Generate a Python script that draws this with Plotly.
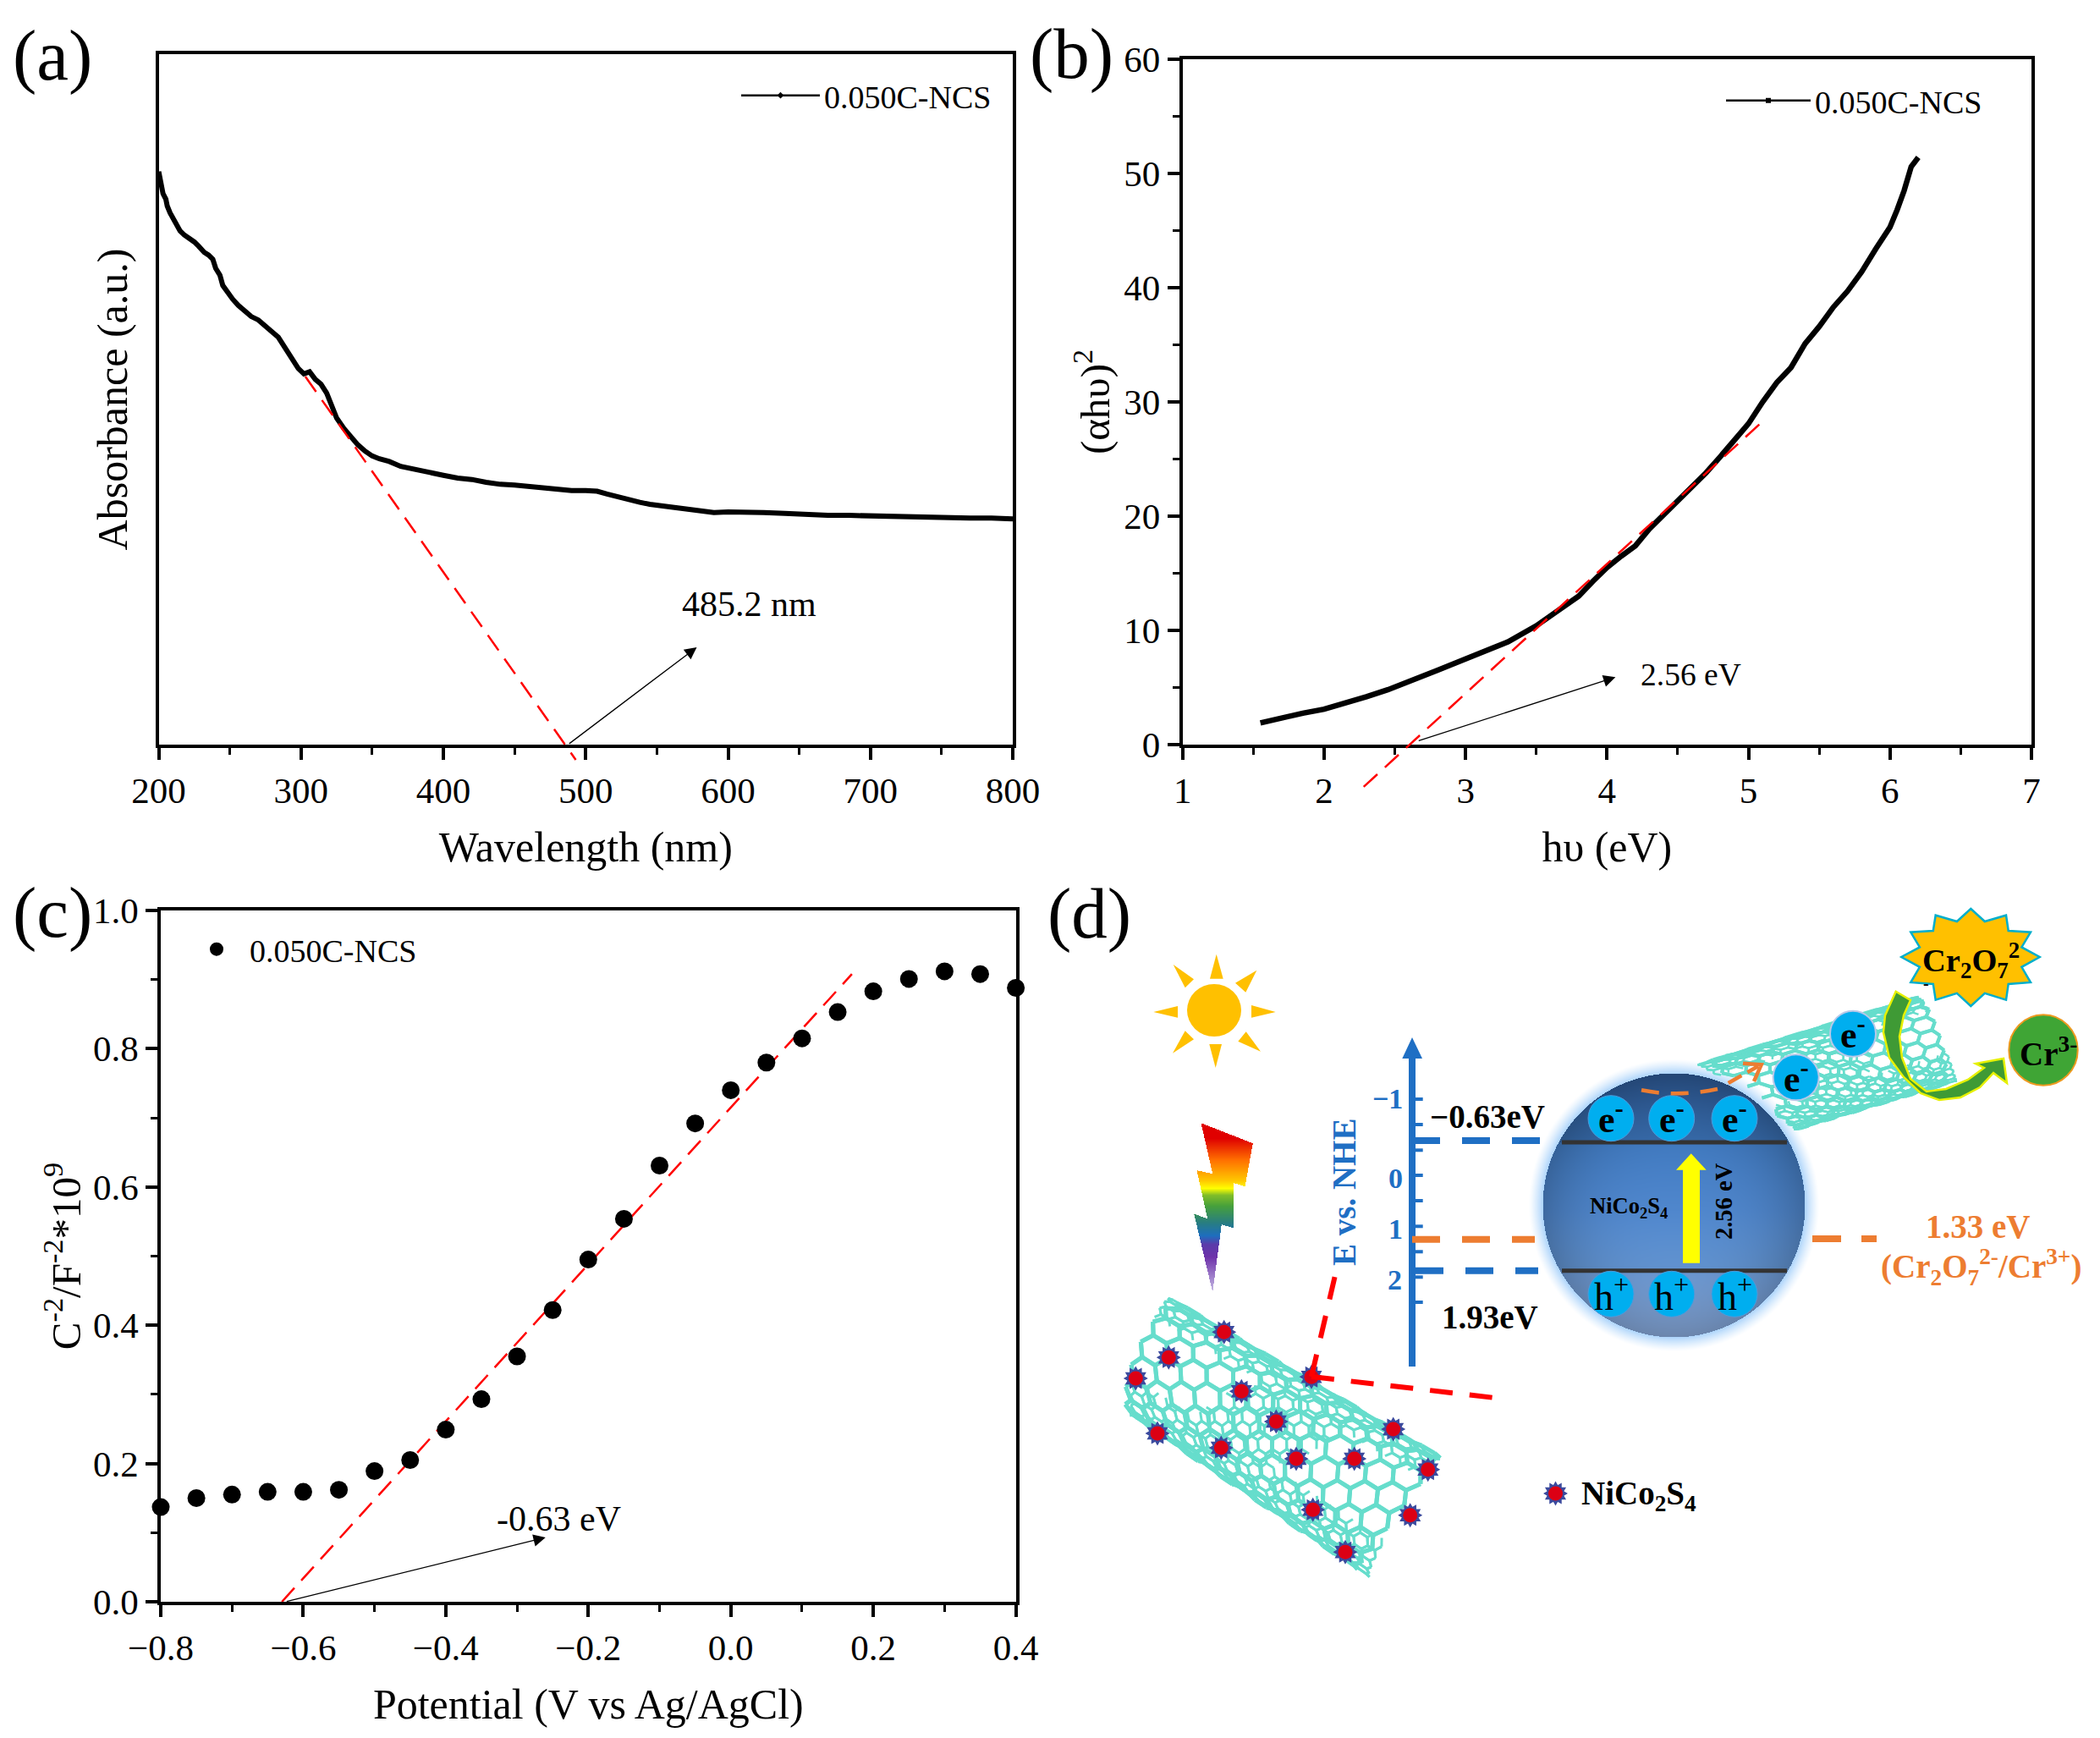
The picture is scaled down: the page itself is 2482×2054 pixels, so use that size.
import numpy as np
import plotly.graph_objects as go

W, H = 2482, 2054
FONT = "Liberation Serif"
BLUE = "#1F6FC4"
ORANGE = "#ED7D31"
CYAN = "#00AEEF"
MESH = "#66DDCC"

# ---------- data ----------
wavelength = [200, 201, 202, 203, 205, 206, 208, 210, 212, 215, 218, 222, 225, 228, 232, 235, 238, 240, 243, 245, 248, 252,
              256, 260, 265, 270, 275, 280, 284, 288, 292, 295, 298, 302, 306, 310, 314, 318, 322, 325, 330, 335, 340, 345,
              350, 355, 362, 370, 378, 385, 392, 400, 410, 420, 430, 440, 450, 460, 470, 480, 490, 500, 508, 515, 522, 530,
              538, 545, 552, 560, 568, 575, 582, 590, 600, 610, 625, 640, 655, 670, 685, 700, 720, 740, 755, 770, 785, 800]
absorbance = [.830, .818, .806, .798, .790, .780, .770, .762, .754, .744, .738, .733, .728, .722, .713, .709, .703, .690, .680,
              .665, .655, .645, .636, .629, .620, .615, .605, .597, .590, .577, .566, .557, .545, .537, .540, .529, .522, .509,
              .490, .473, .458, .445, .434, .425, .418, .414, .410, .403, .400, .396, .393, .390, .386, .384, .380, .377, .376,
              .374, .371, .369, .368, .368, .367, .363, .359, .355, .351, .348, .346, .345, .342, .340, .338, .336, .337, .337,
              .336, .335, .333, .332, .332, .331, .330, .329, .329, .328, .328, .327]

photon_energy = [1.55, 1.7, 1.85, 2.0, 2.15, 2.3, 2.45, 2.6, 2.8, 3.0, 3.15, 3.3, 3.5, 3.7, 3.8, 3.9, 4.0, 4.1, 4.2, 4.3, 4.4,
                 4.5, 4.6, 4.7, 4.8, 4.9, 5.0, 5.1, 5.2, 5.3, 5.4, 5.5, 5.6, 5.7, 5.8, 5.9, 6.0, 6.05, 6.1, 6.15, 6.2]
tauc = [1.9, 2.35, 2.75, 3.1, 3.6, 4.2, 4.8, 5.5, 6.5, 7.5, 8.3, 9.0, 10.4, 12.1, 13.0, 14.3, 15.5, 16.5, 17.4, 18.9, 20.1,
        21.3, 22.5, 23.8, 25.2, 26.6, 28.1, 30.0, 31.7, 33.0, 35.1, 36.6, 38.3, 39.7, 41.4, 43.4, 45.3, 46.8, 48.5, 50.6, 51.4]

potential = [-.8, -.75, -.7, -.65, -.6, -.55, -.5, -.45, -.4, -.35, -.3, -.25, -.2, -.15, -.1, -.05, 0, .05, .1, .15, .2, .25, .3, .35, .4]
mott = [.137, .150, .155, .159, .159, .162, .189, .205, .249, .293, .355, .422, .495, .554, .631, .692, .740, .780, .815, .853,
        .883, .901, .912, .908, .888]

fit_a_x, fit_a_y = [303, 493], [.533, -.022]
fit_b_x, fit_b_y = [2.28, 5.10], [-3.69, 28.3]
fit_c_x, fit_c_y = [-.63, .17], [0, .908]

series_name = "0.050C-NCS"
x_tick_a = [200, 300, 400, 500, 600, 700, 800]
x_tick_b = [1, 2, 3, 4, 5, 6, 7]
y_tick_b = [0, 10, 20, 30, 40, 50, 60]
x_tick_c = [-.8, -.6, -.4, -.2, 0, .2, .4]
y_tick_c = [0, .2, .4, .6, .8, 1.0]

# ---------- panel boxes (figure pixels) ----------
BOX_A = (187.6, 1197, 64, 880)
BOX_B = (1397.7, 2401, 70, 880)
BOX_C = (190, 1200.6, 1076, 1893)
RANGE_A = ([200, 800], [0, 1])
RANGE_B = ([1, 7], [0, 60])

# ---------- schematic geometry (figure pixels) ----------
sun_rays = [((1437.7, 1127.7), (1430, 1156.7), (1445.7, 1156.7)), ((1507.7, 1196), (1479, 1188), (1479, 1202.7)),
            ((1436.7, 1262), (1429.3, 1234), (1444, 1234)), ((1363.3, 1196), (1392, 1189), (1392, 1202.7)),
            ((1386.7, 1140), (1411, 1157.3), (1400.7, 1167.3)), ((1485.3, 1146.7), (1460, 1161.7), (1472.3, 1172.7)),
            ((1490, 1242.7), (1472.7, 1219.3), (1463.3, 1230.7)), ((1386, 1244.7), (1400.7, 1218.3), (1411, 1228.3))]
bolt = [(1419, 1326.7), (1480.3, 1350.7), (1471, 1401.7), (1457.7, 1397.7), (1457.7, 1451), (1443.3, 1446.7), (1432.7, 1526.7),
        (1410.7, 1434), (1426.7, 1440), (1414, 1382.7), (1432.7, 1386.7)]
bolt_stops = [(1326, (224, 0, 0)), (1345, (224, 0, 0)), (1370, (255, 110, 0)), (1395, (255, 200, 0)), (1404, (255, 255, 0)),
              (1412, (130, 190, 40)), (1425, (70, 160, 60)), (1445, (40, 125, 130)), (1460, (30, 110, 190)), (1470, (90, 60, 170)),
              (1485, (110, 50, 170)), (1527, (200, 190, 230))]
red_dots_x = [1446.7, 1381.3, 1342.3, 1550, 1467.3, 1508.3, 1646.7, 1368, 1443.3, 1532, 1600.7, 1687.7, 1551.7, 1666.7, 1590]
red_dots_y = [1574.3, 1604.3, 1629, 1627.3, 1644.3, 1680, 1689, 1694, 1711, 1724, 1724, 1736.7, 1784.3, 1790.7, 1834.3]
tick_ys = [1299, 1329, 1359.3, 1389, 1419, 1449.3, 1479.3, 1509.3, 1539]
electron_x = [1904, 1975.7, 2050]
star_tips = [(2329.3, 1074), (2371, 1081.7), (2400, 1101.7), (2410.7, 1131), (2400, 1161), (2371, 1181.7), (2329.3, 1189),
             (2287.7, 1181.7), (2258.3, 1161), (2247.3, 1131), (2258.3, 1101.7), (2287.7, 1081.7)]
SPH_CX, SPH_CY, SPH_RX, SPH_RY = 1978, 1424, 155, 156


def lerp_stops(v, stops):
    xs = [s[0] for s in stops]
    return [np.interp(v, xs, [s[1][k] for s in stops]) for k in range(3)]


def inside_poly(px, py, poly):
    res = np.zeros(px.shape, bool)
    n = len(poly)
    for i in range(n):
        x1, y1 = poly[i]
        x2, y2 = poly[(i + 1) % n]
        cond = ((y1 > py) != (y2 > py)) & (px < (x2 - x1) * (py - y1) / (y2 - y1 + 1e-9) + x1)
        res ^= cond
    return res


def bolt_image():
    xs = np.arange(1405, 1486)
    ys = np.arange(1322, 1530)
    gx, gy = np.meshgrid(xs, ys)
    r, g, b = lerp_stops(gy, bolt_stops)
    a = inside_poly(gx, gy, bolt) * 255
    return np.dstack([r, g, b, a]).astype(int), int(xs[0]), int(ys[0])


def sphere_image():
    xs = np.arange(SPH_CX - 185, SPH_CX + 186, 1)
    ys = np.arange(SPH_CY - 185, SPH_CY + 186, 1)
    gx, gy = np.meshgrid(xs, ys)
    rr = np.hypot((gx - SPH_CX) / SPH_RX, (gy - SPH_CY) / SPH_RY)
    stops = [(1268, (46, 90, 150)), (1349, (56, 108, 172)), (1351, (66, 124, 195)), (1430, (80, 135, 205)), (1500, (100, 150, 212)),
             (1503, (110, 155, 214)), (1580, (138, 172, 222))]
    r, g, b = lerp_stops(gy, stops)
    shade = 1 - 0.22 * np.clip(rr, 0, 1) ** 3
    r, g, b = r * shade, g * shade, b * shade
    glow = rr >= 1
    r = np.where(glow, 165, r)
    g = np.where(glow, 208, g)
    b = np.where(glow, 250, b)
    a = np.where(rr < 1, 255, np.clip((1.11 - rr) / 0.11, 0, 1) ** 1.3 * 230)
    return np.dstack([r, g, b, a]).astype(int), int(xs[0]), int(ys[0])


def honeycomb(P00, P01, P10, P11, a, bulge_l=0.0, bulge_r=0.0, phase=0.0, skew=0.0, clip_sphere=False, band_only=False):
    P00, P01, P10, P11 = map(np.array, (P00, P01, P10, P11))
    length = np.linalg.norm((P10 + P11 - P00 - P01) / 2)
    R = np.linalg.norm(P01 - P00) / 2
    axis = (P10 - P00) / np.linalg.norm(P10 - P00)
    arc_max = np.pi * R
    xs, ys = [], []
    sq = np.sqrt(3) * a

    def mapped(L, s):
        th = (s / arc_max) * np.pi
        v = (1 - np.cos(th)) / 2
        t = L / length
        left = P00 + (P01 - P00) * v
        right = P10 + (P11 - P10) * v
        bulge = bulge_l * (1 - t) + bulge_r * t
        return left + (right - left) * t + axis * (bulge * np.sin(th) + skew * (s / arc_max - .5)), t, v

    for i in range(int(length / (1.5 * a)) + 2):
        for j in range(int(arc_max / sq) + 2):
            cL = 1.5 * a * i
            cS = sq * (j + (i % 2) / 2) + phase
            ang = np.deg2rad(np.arange(0, 361, 60))
            Ls = cL + a * np.cos(ang)
            Ss = cS + a * np.sin(ang)
            for k in range(6):
                if not (0 <= Ls[k] <= length and 0 <= Ls[k + 1] <= length and 0 <= Ss[k] <= arc_max and 0 <= Ss[k + 1] <= arc_max):
                    continue
                p, t, v = mapped(Ls[k], Ss[k])
                q, _, _ = mapped(Ls[k + 1], Ss[k + 1])
                if band_only and not (v < .16 or v > .72 or (.32 < t + (v - .5) * .3 < .62)):
                    continue
                if clip_sphere:
                    if np.hypot((p[0] - SPH_CX) / SPH_RX, (p[1] - SPH_CY) / SPH_RY) < 1.04 or \
                       np.hypot((q[0] - SPH_CX) / SPH_RX, (q[1] - SPH_CY) / SPH_RY) < 1.04:
                        continue
                xs += [float(p[0]), float(q[0]), None]
                ys += [float(p[1]), float(q[1]), None]
    return xs, ys


def poly_path(pts):
    return "M " + " L ".join(f"{x:.1f},{y:.1f}" for x, y in pts) + " Z"


def to_fig_px(xv, yv, box, ranges):
    """Place a value pair of a panel on the full-figure overlay axes, so it can run past the panel's frame."""
    l, r, t, b = box
    (x0, x1), (y0, y1) = ranges
    return ([l + (v - x0) / (x1 - x0) * (r - l) for v in xv], [b - (v - y0) / (y1 - y0) * (b - t) for v in yv])


fig = go.Figure()

# ---------- chart marks ----------
FIT = dict(color="#FF0000", width=2.5, dash="22px,12px")
fig.add_trace(go.Scatter(x=wavelength, y=absorbance, mode="lines", line=dict(color="black", width=6), showlegend=False,
                         xaxis="x", yaxis="y", cliponaxis=False))
fx_a, fy_a = to_fig_px(fit_a_x, fit_a_y, BOX_A, RANGE_A)
fig.add_trace(go.Scatter(x=fx_a, y=fy_a, mode="lines", line=FIT, showlegend=False, xaxis="x4", yaxis="y4"))
fig.add_trace(go.Scatter(x=[None], y=[None], mode="lines+markers", name=series_name, line=dict(color="black", width=2.5),
                         marker=dict(color="black", size=6, symbol="diamond"), xaxis="x", yaxis="y", legend="legend"))

fig.add_trace(go.Scatter(x=photon_energy, y=tauc, mode="lines", line=dict(color="black", width=6.5), showlegend=False,
                         xaxis="x2", yaxis="y2", cliponaxis=False))
fx_b, fy_b = to_fig_px(fit_b_x, fit_b_y, BOX_B, RANGE_B)
fig.add_trace(go.Scatter(x=fx_b, y=fy_b, mode="lines", line=FIT, showlegend=False, xaxis="x4", yaxis="y4"))
fig.add_trace(go.Scatter(x=[None], y=[None], mode="lines+markers", name=series_name, line=dict(color="black", width=2.5),
                         marker=dict(color="black", size=6, symbol="square"), xaxis="x2", yaxis="y2", legend="legend2"))

fig.add_trace(go.Scatter(x=fit_c_x, y=fit_c_y, mode="lines", line=FIT, showlegend=False,
                         xaxis="x3", yaxis="y3", cliponaxis=False))
fig.add_trace(go.Scatter(x=potential, y=mott, mode="markers", name=series_name, marker=dict(color="black", size=21),
                         xaxis="x3", yaxis="y3", legend="legend3", cliponaxis=False))

# ---------- schematic ----------
D = dict(xaxis="x4", yaxis="y4", showlegend=False, hoverinfo="skip")
for img, x0, y0 in (sphere_image(), bolt_image()):
    fig.add_trace(go.Image(z=img.tolist(), colormodel="rgba256", x0=x0, y0=y0, dx=1, dy=1, xaxis="x4", yaxis="y4", hoverinfo="skip"))

# nanotube 1
c1 = dict(P00=(1388, 1537), P01=(1330, 1668), P10=(1712, 1727), P11=(1612, 1860))
bx, by = honeycomb(**c1, a=10, phase=6, bulge_l=-18, bulge_r=-4, skew=22, band_only=True)
fig.add_trace(go.Scatter(x=bx, y=by, mode="lines", line=dict(color=MESH, width=3), **D))
fx, fy = honeycomb(**c1, a=17, bulge_l=-26, bulge_r=0)
fig.add_trace(go.Scatter(x=fx, y=fy, mode="lines", line=dict(color=MESH, width=5), **D))
# nanotube 2
c2 = dict(P00=(2010, 1257), P01=(2117, 1337), P10=(2277, 1175), P11=(2305, 1280))
bx, by = honeycomb(**c2, a=8, phase=4, bulge_r=6, skew=20, clip_sphere=True, band_only=True)
fig.add_trace(go.Scatter(x=bx, y=by, mode="lines", line=dict(color=MESH, width=2.5), **D))
fx, fy = honeycomb(**c2, a=13, bulge_r=14, clip_sphere=True)
fig.add_trace(go.Scatter(x=fx, y=fy, mode="lines", line=dict(color=MESH, width=4), **D))

# NiCo2S4 dots
dot_x = red_dots_x + [1838.5]
dot_y = red_dots_y + [1765]
fig.add_trace(go.Scatter(x=dot_x, y=dot_y, mode="markers", marker=dict(symbol="hexagram", size=22, color="#3B4A9E", line=dict(width=0)), **D))
fig.add_trace(go.Scatter(x=dot_x, y=dot_y, mode="markers", marker=dict(symbol="hexagram", size=22, angle=30, color="#3B4A9E", line=dict(width=0)), **D))
fig.add_trace(go.Scatter(x=dot_x, y=dot_y, mode="markers", marker=dict(symbol="circle", size=17, color="#DC0014", line=dict(width=0)), **D))

shapes = []


def S(**kw):
    shapes.append(dict(xref="x4", yref="y4", **kw))


def line(x0, y0, x1, y1, color, width, dash=None):
    S(type="line", x0=x0, y0=y0, x1=x1, y1=y1, line=dict(color=color, width=width, dash=dash or "solid"))


def circle(cx, cy, rx, ry, fill, lc=None, lw=0):
    S(type="circle", x0=cx - rx, x1=cx + rx, y0=cy - ry, y1=cy + ry, fillcolor=fill, line=dict(color=lc or fill, width=lw))


def poly(pts, fill, lc=None, lw=0):
    S(type="path", path=poly_path(pts), fillcolor=fill, line=dict(color=lc or fill, width=lw))


# sun
circle(1435, 1194, 32, 31, "#FFC000")
for r in sun_rays:
    poly(r, "#FFC000")

# dashed red zoom-lines
line(1550, 1627, 1579, 1503, "#FF0000", 6, "27px,20px")
line(1550, 1627, 1767, 1652, "#FF0000", 6, "27px,20px")

# energy axis
line(1669, 1250, 1669, 1615, BLUE, 8)
poly([(1669, 1226), (1657.3, 1251), (1681, 1251)], BLUE)
for ty in tick_ys:
    line(1669, ty, 1681.7, ty, BLUE, 4)
line(1669, 1348, 1820, 1348, BLUE, 8, "33px,26px")
line(1669, 1464.7, 1814, 1464.7, ORANGE, 8, "33px,26px")
line(1673, 1501.7, 1818, 1501.7, BLUE, 8, "33px,26px")
line(2142, 1464, 2218, 1464, ORANGE, 8, "34px,24px")

# band edges
line(1846, 1350, 2112, 1350, "#333333", 5)
line(1846, 1501.7, 2112, 1501.7, "#333333", 5)

# carriers
for ex in electron_x:
    circle(ex, 1321.7, 27, 27, CYAN, "#4C9BDC", 1)
    circle(ex, 1529.3, 27, 27, CYAN, "#4C9BDC", 1)
circle(2190, 1221.7, 27, 27, CYAN, "#B8C8E8", 2)
circle(2122.7, 1273.3, 27, 27, CYAN, "#B8C8E8", 2)

# band-gap arrow
poly([(1989, 1492.7), (1989, 1382.7), (1981, 1382.7), (1998.7, 1363.3), (2016.7, 1382.7), (2009, 1382.7), (2009, 1492.7)], "#FFFF00")

# orange transfer path
S(type="path", path="M 1940,1288.3 Q 1983,1297 2030,1287", line=dict(color=ORANGE, width=4.5, dash="21px,14px"))
line(2042.7, 1280, 2078, 1260, ORANGE, 4.5, "18px,8px")
S(type="path", path="M 2060,1256.7 L 2081.7,1258.3 L 2073,1278", line=dict(color=ORANGE, width=4.5))

# Cr2O7 star
center = np.array((2329.3, 1131))
pts = []
for i, t in enumerate(star_tips):
    pts.append(t)
    nxt = np.array(star_tips[(i + 1) % 12])
    mid = center + .79 * ((np.array(t) + nxt) / 2 - center)
    pts.append(tuple(mid))
poly(pts, "#FFC000", "#00AECB", 2.5)

# Cr3 circle
circle(2415, 1241, 40.7, 41.7, "#3FA535", "#ED9A20", 2)

# curved green arrow
green_path = [(2240.7, 1171.7), (2258, 1182), (2250, 1200), (2245, 1225), (2248, 1250), (2258, 1275), (2277, 1290), (2300, 1287), (2326, 1276),
              (2345, 1262), (2335, 1257), (2368, 1251), (2372, 1280), (2356, 1268), (2340, 1285), (2317, 1297), (2292, 1300), (2270, 1292),
              (2250, 1273), (2233, 1250), (2226, 1220), (2228, 1200)]
poly(green_path, "#3F9A35", "#E6F000", 2.5)

TXT = []


def T(x, y, text, size, color="black", bold=False, angle=0):
    t = f"<b>{text}</b>" if bold else text
    TXT.append(dict(x=x, y=y, xref="x4", yref="y4", text=t, showarrow=False, textangle=angle,
                    font=dict(family=FONT, size=size, color=color), xanchor="center", yanchor="middle"))


T(62, 65, "(a)", 85)
T(1266, 63, "(b)", 85)
T(62, 1078, "(c)", 85)
T(1287, 1079, "(d)", 85)

T(1640, 1298, "−1", 34, BLUE, True)
T(1649, 1392, "0", 34, BLUE, True)
T(1649, 1452, "1", 34, BLUE, True)
T(1648, 1512, "2", 34, BLUE, True)
T(1588, 1409, "E vs. NHE", 39, BLUE, True, -90)
T(1758, 1319, "−0.63eV", 39, bold=True)
T(1761, 1556, "1.93eV", 39, bold=True)
T(1925, 1427, "NiCo<sub>2</sub>S<sub>4</sub>", 26.5, bold=True)
T(2037, 1420, "2.56 eV", 28.5, bold=True, angle=-90)
for ex in electron_x:
    T(ex, 1320, "e<sup>-</sup>", 44, bold=True)
    T(ex, 1529, "h<sup>+</sup>", 46)
T(2190, 1220, "e<sup>-</sup>", 44, bold=True)
T(2123, 1272, "e<sup>-</sup>", 44, bold=True)
T(2337, 1449, "1.33 eV", 39, ORANGE, True)
T(2341, 1497, "(Cr<sub>2</sub>O<sub>7</sub><sup>2-</sup>/Cr<sup>3+</sup>)", 39, ORANGE, True)
T(2329, 1135, "Cr<sub>2</sub>O<sub>7</sub><sup>2</sup>", 38.5, bold=True)
T(2276, 1162, "-", 20, bold=True)
T(2421, 1243, "Cr<sup>3-</sup>", 39, bold=True)
T(1937, 1767, "NiCo<sub>2</sub>S<sub>4</sub>", 39, bold=True)


def arrow(xr, yr, x0, y0, x1, y1):
    TXT.append(dict(x=x1, y=y1, ax=x0, ay=y0, xref=xr, yref=yr, axref=xr, ayref=yr, text="", showarrow=True, arrowhead=2,
                    arrowsize=2.2, arrowwidth=1.3, arrowcolor="black"))


def note(xr, yr, x, y, text, size):
    TXT.append(dict(x=x, y=y, xref=xr, yref=yr, text=text, showarrow=False, font=dict(family=FONT, size=size, color="black")))


arrow("x", "y", 487.5, 0, 578, .141)
note("x", "y", 614.6, .204, "485.2 nm", 42)
arrow("x2", "y2", 2.66, .3, 4.06, 5.9)
note("x2", "y2", 4.59, 6.1, "2.56 eV", 37.5)
arrow("x3", "y3", -.625, 0, -.26, .093)
note("x3", "y3", -.241, .12, "-0.63 eV", 42)


def xax(l, r, **kw):
    return dict(domain=[l / W, r / W], showline=True, linecolor="black", linewidth=3.5, mirror=True, ticks="outside", ticklen=14, tickwidth=3.5,
                tickcolor="black", showgrid=False, zeroline=False, automargin=False, tickfont=dict(family=FONT, size=43, color="black"), **kw)


def yax(t, b, **kw):
    return dict(domain=[1 - b / H, 1 - t / H], showline=True, linecolor="black", linewidth=3.5, mirror=True, ticks="outside", ticklen=14,
                tickwidth=3.5, tickcolor="black", showgrid=False, zeroline=False, automargin=False,
                tickfont=dict(family=FONT, size=43, color="black"), **kw)


def minor(t0, d):
    return dict(ticks="outside", ticklen=8, tickwidth=3, tickcolor="black", tick0=t0, dtick=d, showgrid=False)


def title(text, standoff, size=50):
    return dict(text=text, font=dict(family=FONT, size=size, color="black"), standoff=standoff)


def legend(x, y, itemwidth):
    return dict(x=x / W, y=1 - y / H, xanchor="left", yanchor="middle", bgcolor="rgba(0,0,0,0)", borderwidth=0,
                font=dict(family=FONT, size=38, color="black"), itemwidth=itemwidth, tracegroupgap=0)


fig.update_layout(
    width=W, height=H, margin=dict(l=0, r=0, t=0, b=0), paper_bgcolor="white", plot_bgcolor="rgba(0,0,0,0)",
    font=dict(family=FONT, color="black"), autosize=False,
    xaxis=dict(**xax(BOX_A[0], BOX_A[1], anchor="y", title=title("Wavelength (nm)", 27), range=RANGE_A[0], tickvals=x_tick_a, minor=minor(200, 50))),
    yaxis=dict(**yax(BOX_A[2], BOX_A[3], anchor="x", title=title("Absorbance (a.u.)", 18), range=RANGE_A[1], showticklabels=False)),
    xaxis2=dict(**xax(BOX_B[0], BOX_B[1], anchor="y2", title=title("hυ (eV)", 27), range=RANGE_B[0], tickvals=x_tick_b, minor=minor(1, .5))),
    yaxis2=dict(**yax(BOX_B[2], BOX_B[3], anchor="x2", title=title("(αhυ)<sup>2</sup>", 2, 49), range=RANGE_B[1], tickvals=y_tick_b, minor=minor(0, 5))),
    xaxis3=dict(**xax(BOX_C[0], BOX_C[1], anchor="y3", title=title("Potential (V vs Ag/AgCl)", 27), range=[-.8, .4], tickvals=x_tick_c, tickformat=".1f",
                      minor=minor(-.8, .1))),
    yaxis3=dict(**yax(BOX_C[2], BOX_C[3], anchor="x3", title=title("C<sup>-2</sup>/F<sup>-2</sup>*10<sup>9</sup>", 0, 49), range=[0, 1], tickvals=y_tick_c,
                      tickformat=".1f", minor=minor(0, .1))),
    xaxis4=dict(domain=[0, 1], range=[0, W], visible=False, anchor="y4"),
    yaxis4=dict(domain=[0, 1], range=[H, 0], visible=False, anchor="x4"),
    legend=legend(871, 113, 93), legend2=legend(2035, 119, 100), legend3=legend(217, 1122, 68),
    shapes=shapes, annotations=TXT,
)
fig.layout.yaxis.ticks = ""
fig.write_html("out.html", post_script="document.body.style.margin='0';", config={"displayModeBar": False})
